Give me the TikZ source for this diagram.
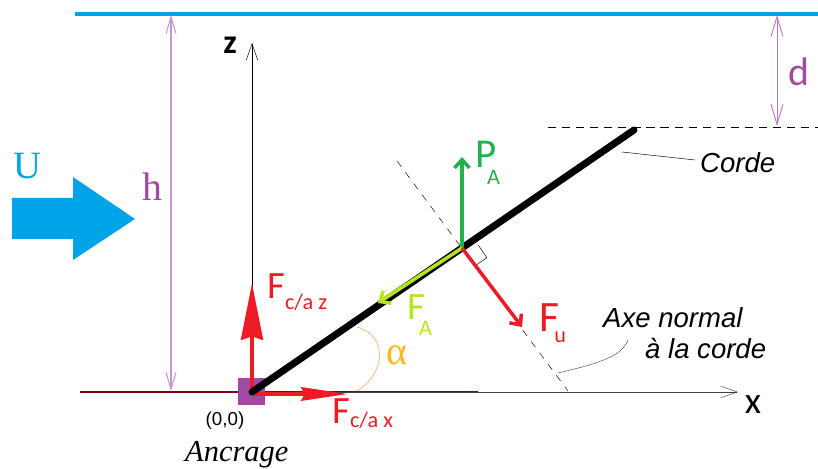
\documentclass[tikz,border=0pt]{standalone}
\usepackage{fontspec}
\setmainfont{Liberation Serif}
\newfontfamily\calib{Carlito}
\newfontfamily\arialf{Liberation Sans}
\usetikzlibrary{arrows.meta}

\definecolor{eau}{RGB}{0,162,232}
\definecolor{violet}{RGB}{163,73,164}
\definecolor{lilas}{RGB}{200,150,210}
\definecolor{rouge}{RGB}{237,28,36}
\definecolor{vert}{RGB}{34,177,76}
\definecolor{jaunevert}{RGB}{181,230,29}
\definecolor{orange}{RGB}{255,150,70}
\definecolor{jaune}{RGB}{255,184,28}
\definecolor{bordeaux}{RGB}{136,0,21}

% F avec indice
\newcommand{\flab}[4][33]{{\calib\fontsize{#1}{#1}\selectfont #2}{\calib\fontsize{19}{19}\selectfont\raisebox{-#3}{#4}}}

\begin{document}
\begin{tikzpicture}[x=0.3mm, y=-0.3mm,
    barb/.style={-{Straight Barb[length=5mm,width=3.5mm]}},
    force/.style={line width=4pt, rouge},
    lab/.style={inner sep=0, anchor=base west}]

         \useasboundingbox (0,0) rectangle (818,469);

         \coordinate (O) at (252,392);
         \coordinate (A) at (462,248);
         \coordinate (C) at (634,130);

         % surface et fond
         \draw[eau, line width=3pt] (75,14) -- (818,14);
         \draw[dashed, dash pattern=on 7pt off 5pt] (548,127) -- (818,127);
         \draw[bordeaux, line width=2pt] (80,392) -- (478,392);

         % courant U
         \fill[eau] (12,198) -- (73,198) -- (73,177) -- (135,219) -- (73,260) -- (73,239) -- (12,239) -- cycle;
         \node(U) at (27,166) [eau, font=\fontsize{33}{33}\selectfont]{U};

         % cotes h et d
         \draw[lilas, line width=0.9pt, <->, >={Straight Barb[length=5mm,width=3mm]}] (171,15) -- (171,391);
         \node(h) at (152,187) [violet, font=\fontsize{34}{34}\selectfont]{h};
         \draw[violet!75, line width=0.8pt, <->, >={Straight Barb[length=6mm,width=3.6mm]}] (777,15) -- (777,126);
         \node(d) at (799,72) [violet, font=\calib\fontsize{34}{34}\selectfont]{d};

         % axes
         \coordinate (X) at (738,392);
         \coordinate (Z) at (252,43);
         \draw[black!75, barb] (O) -- (X);
         \draw[barb] (O) -- (Z);
         \node(x) at (753,405) [font=\calib\fontsize{32}{32}\selectfont]{x};
         \node(z) at (230,45) [font=\calib\bfseries\fontsize{29}{29}\selectfont]{z};

         % ancrage
         \fill[violet] (238,378) rectangle (265,405);
         \node(orig) at (225,421) [font=\arialf\fontsize{16}{16}\selectfont]{(0,0)};
         \node(ancr) at (185,461) [lab, font=\itshape\fontsize{26}{26}\selectfont]{Ancrage};

         % reactions
         \coordinate (Rz) at (252,283);
         \coordinate (Rx) at (348,394);
         \draw[force, -{Stealth[length=17mm,width=6.5mm,inset=1mm]}] (O) -- (Rz);
         \draw[rouge, line width=3.5pt, -{Stealth[length=14mm,width=4mm,inset=1mm]}] (252,394) -- (Rx);
         \node(Fz) at (267,298) [lab, rouge]{\flab{F}{10pt}{c/a z}};
         \node(Fx) at (332,423) [lab, rouge]{\flab{F}{4pt}{c/a x}};

         % angle
         \draw[orange, thin] (357,391) .. controls (387,372) and (387,335) .. (357,327);
         \node(alpha) at (397,355) [jaune, font=\fontsize{34}{34}\selectfont]{α};

         % corde
         \draw[line width=6pt, line cap=round] (O) -- (C);
         \coordinate (Cl) at (622,152);
         \node(corde) at (700,173) [lab, font=\arialf\itshape\fontsize{23.5}{23.5}\selectfont]{Corde};
         \draw (Cl) -- (695,160);

         % axe normal
         \coordinate (Nt) at (397,161);
         \coordinate (Nb) at (568,391);
         \draw[dashed, dash pattern=on 6pt off 6pt, thin] (Nt) -- (Nb);
         \draw[thin] (474.5,266.2) -- (486.9,257.7) -- (478.4,245.3);
         \node(axe1) at (603,327) [lab, font=\arialf\itshape\fontsize{23.5}{23.5}\selectfont]{Axe normal};
         \node(axe2) at (645,358) [lab, font=\arialf\itshape\fontsize{23.5}{23.5}\selectfont]{à la corde};
         \draw[black!70] (558,373) .. controls (605,362) and (622,355) .. (628,340);

         % efforts en A
         \coordinate (PA) at (462,157);
         \coordinate (FAt) at (378,303);
         \coordinate (Fut) at (522,327);
         \draw[vert, line width=3pt, -{Straight Barb[length=2.5mm,width=4.5mm]}] (A) -- (PA);
         \draw[jaunevert, line width=3pt, -{Straight Barb[length=2.5mm,width=4.5mm]}] (A) -- (FAt);
         \draw[rouge, line width=3pt, -{Straight Barb[length=2.5mm,width=4.5mm]}] (A) -- (Fut);
         \node(P) at (475,168) [lab, vert]{\flab[35]{P}{14pt}{\kern-8pt A}};
         \node(FA) at (407,319) [lab, jaunevert]{\flab{F}{14pt}{\kern-5pt A}};
         \node(Fu) at (539,331) [lab, rouge]{\flab[37]{F}{10pt}{\kern-4pt u}};

\end{tikzpicture}
\end{document}
